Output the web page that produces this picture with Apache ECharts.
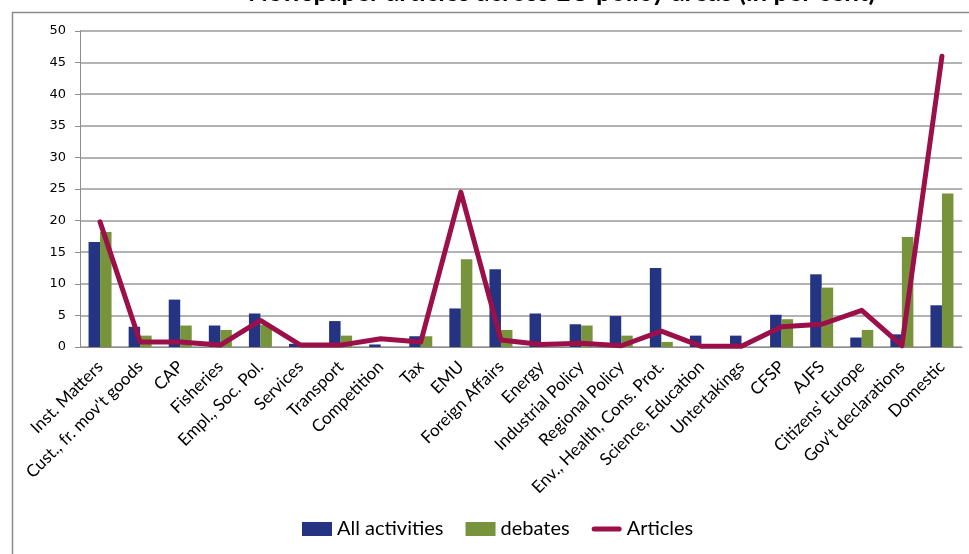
<!DOCTYPE html>
<html>
<head>
<meta charset="utf-8">
<script src="https://cdn.jsdelivr.net/npm/echarts@6/dist/echarts.min.js"></script>
<style>
html,body{margin:0;padding:0;background:#fff;}
#c{width:969px;height:554px;}
</style>
</head>
<body>
<div id="c"></div>
<script>
const categories = ["Inst. Matters","Cust., fr. mov't goods","CAP","Fisheries","Empl., Soc. Pol.","Services","Transport","Competition","Tax","EMU","Foreign Affairs","Energy","Industrial Policy","Regional Policy","Env., Health, Cons. Prot.","Science, Education","Untertakings","CFSP","AJFS","Citizens' Europe","Gov't declarations","Domestic"];
const allActivities = [16.6,3.2,7.5,3.4,5.3,0.5,4.1,0.4,1.7,6.1,12.3,5.3,3.6,4.9,12.5,1.8,1.8,5.1,11.5,1.5,2.0,6.6];
const debates = [18.2,1.8,3.4,2.7,3.5,0,1.8,0,1.7,13.9,2.7,0,3.4,1.8,0.8,0,0,4.4,9.4,2.7,17.4,24.3];
const articles = [19.8,0.8,0.8,0.3,4.2,0.3,0.3,1.3,0.8,24.5,1.1,0.4,0.6,0.2,2.5,0.1,0.1,3.2,3.6,5.8,0.2,46.0];
const yTicks = [0,5,10,15,20,25,30,35,40,45,50];

const chart = echarts.init(document.getElementById('c'));
const FONT = 'Lato';
chart.setOption({
  animation:false,
  textStyle:{fontFamily:FONT,color:'#000'},
  title:{
    text:'Newspaper articles across EU policy areas (in per cent)',
    left:243, top:-25,
    textStyle:{fontFamily:FONT,fontSize:26,fontWeight:'bold',color:'#000'}
  },
  graphic:[{
    type:'rect', left:10, top:10, z:-1,
    shape:{width:1000,height:600},
    style:{fill:'none',stroke:'#8c8c8c',lineWidth:1.5}
  }],
  grid:{left:80,right:7,top:31,bottom:207},
  legend:{
    bottom:10, left:297,
    itemGap:22, itemWidth:30, itemHeight:14,
    textStyle:{fontFamily:FONT,fontSize:20,color:'#000'},
    data:[
      {name:'All activities',icon:'rect'},
      {name:'debates',icon:'rect'},
      {name:'Articles',icon:'path://M2.5,0 L27.5,0 A2.5,2.5 0 0 1 27.5,5 L2.5,5 A2.5,2.5 0 0 1 2.5,0 Z'}
    ]
  },
  xAxis:{
    type:'category', data:categories,
    axisLine:{lineStyle:{color:'#8c8c8c',width:1}},
    axisTick:{length:5,lineStyle:{color:'#8c8c8c'}},
    axisLabel:{rotate:45,fontSize:17,margin:17,color:'#000',fontFamily:FONT,interval:0}
  },
  yAxis:{
    type:'value', min:0, max:50, interval:5,
    axisLine:{show:true,lineStyle:{color:'#8c8c8c',width:1}},
    axisTick:{show:true,length:5,lineStyle:{color:'#8c8c8c'}},
    axisLabel:{fontSize:13,margin:14,color:'#000',fontFamily:'DejaVu Sans'},
    splitLine:{lineStyle:{color:'#9a9a9a',width:1.5}}
  },
  series:[
    {name:'All activities',type:'bar',data:allActivities,barWidth:11.5,barGap:'0%',
      itemStyle:{color:'#253383'}},
    {name:'debates',type:'bar',data:debates,barWidth:11.5,
      itemStyle:{color:'#77933C'}},
    {name:'Articles',type:'line',data:articles,symbol:'none',
      itemStyle:{color:'#9B1048'},
      lineStyle:{color:'#9B1048',width:5,cap:'round',join:'round'}}
  ]
});
</script>
</body>
</html>
